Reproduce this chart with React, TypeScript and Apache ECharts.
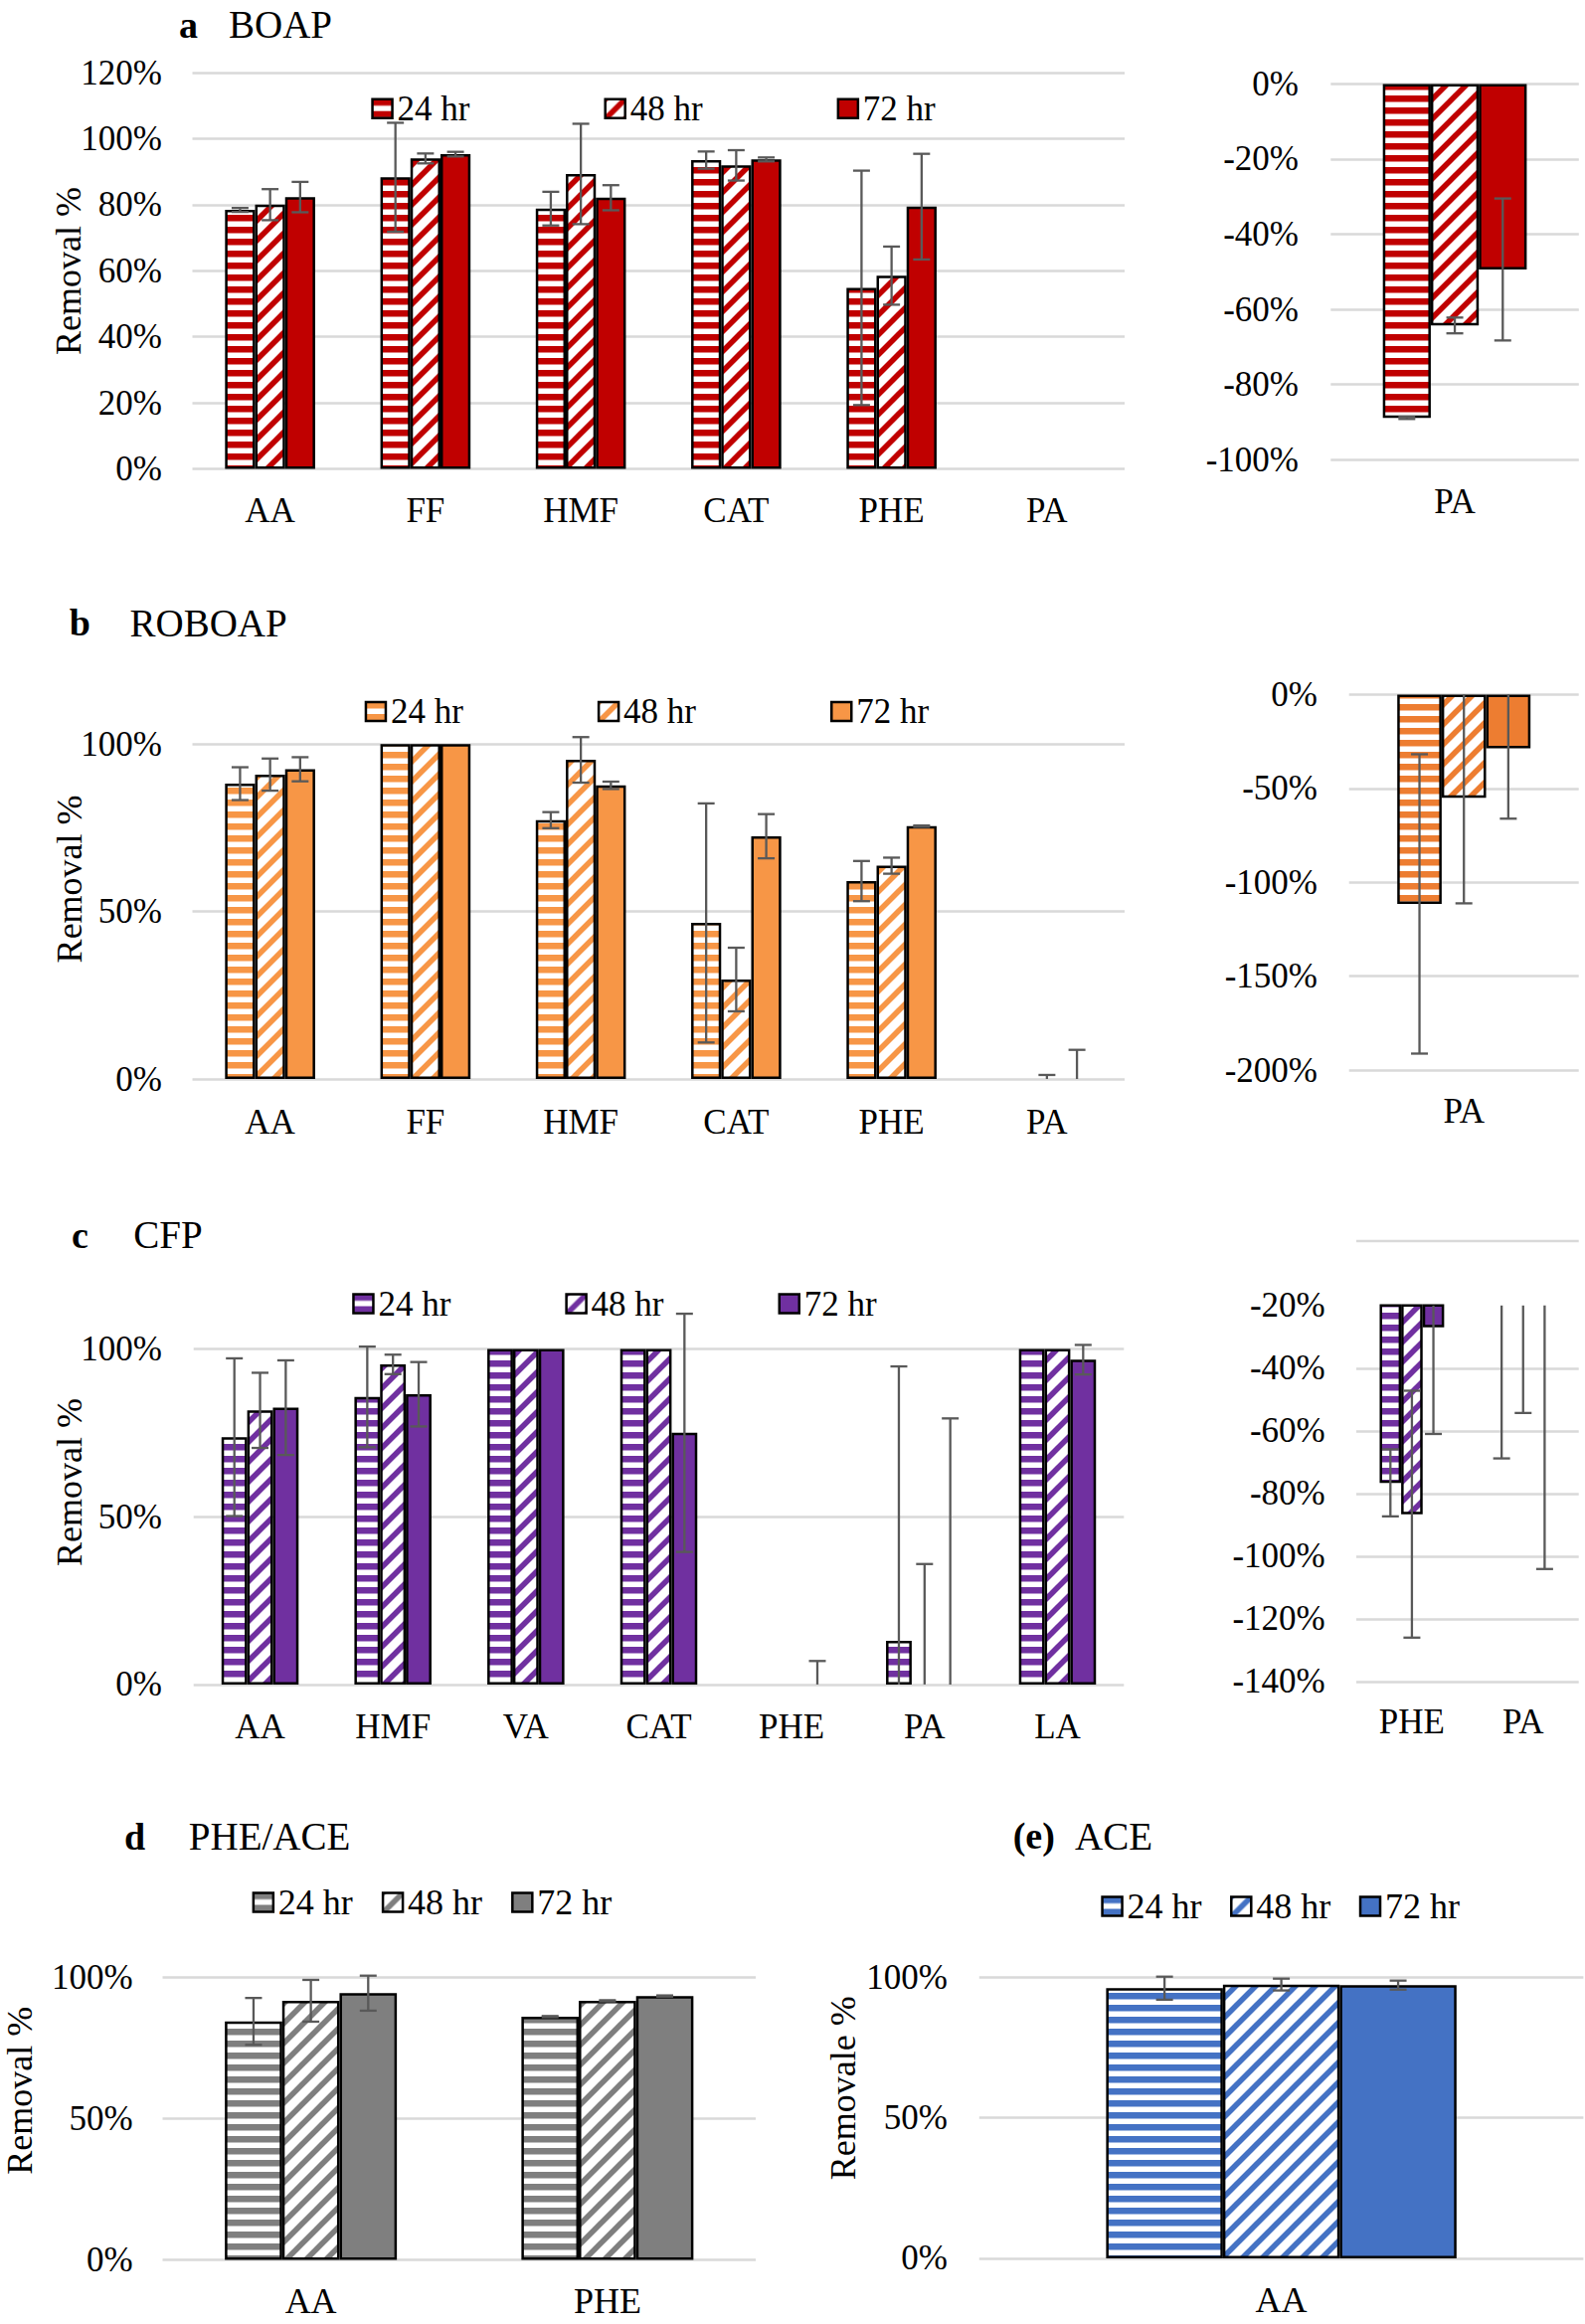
import React, { useEffect, useRef } from 'react';
import * as echarts from 'echarts';

const FONT = '"Liberation Serif", "Times New Roman", Times, serif';
const SERIES_LABELS = ['24 hr', '48 hr', '72 hr'];

// ---------- (a) BOAP ----------
const catsA = ['AA', 'FF', 'HMF', 'CAT', 'PHE', 'PA'];
const a24 = [78.4, 88.3, 78.8, 93.5, 54.8, -88.9];
const a24Err = [0.6, 16.5, 5.1, 2.6, 35.5, 0.3];
const a48 = [80.0, 94.0, 89.3, 91.9, 58.5, -64.3];
const a48Err = [4.7, 1.5, 15.2, 4.6, 8.8, 2.1];
const a72 = [82.3, 95.3, 82.1, 93.7, 79.4, -49.4];
const a72Err = [4.6, 0.7, 3.8, 0.6, 16.0, 18.9];
const insetCatsA = ['PA'];

// ---------- (b) ROBOAP ----------
const catsB = ['AA', 'FF', 'HMF', 'CAT', 'PHE', 'PA'];
const b24 = [88.2, 100, 77.3, 46.6, 59.1, -111.5];
const b24Err = [4.9, 0, 2.4, 35.7, 6.0, 79.7];
const b48 = [90.9, 100, 95.3, 29.7, 63.7, -55.0];
const b48Err = [4.8, 0, 6.8, 9.5, 2.4, 56.2];
const b72 = [92.5, 100, 87.7, 72.5, 75.5, -28.7];
const b72Err = [3.6, 0, 1.1, 6.6, 0.2, 37.4];
const insetCatsB = ['PA'];

// ---------- (c) CFP ----------
const catsC = ['AA', 'HMF', 'VA', 'CAT', 'PHE', 'PA', 'LA'];
const c24 = [73.7, 85.7, 100, 100, -76.6, 13.0, 100];
const c24Err = [23.5, 15.0, 0, 0, 10.7, 81.8, 0];
const c48 = [81.7, 95.4, 100, 100, -86.6, -9.2, 100];
const c48Err = [11.2, 2.9, 0, 0, 39.4, 45.1, 0];
const c72 = [82.5, 86.5, 100, 75.0, -27.0, -12.4, 96.8];
const c72Err = [14.1, 9.6, 0, 35.5, 34.0, 91.7, 4.4];
const insetCatsC = ['PHE', 'PA'];

// ---------- (d) PHE/ACE ----------
const catsD = ['AA', 'PHE'];
const d24 = [84.5, 86.2];
const d24Err = [8.3, 0.2];
const d48 = [91.8, 91.8];
const d48Err = [7.4, 0.2];
const d72 = [94.5, 93.5];
const d72Err = [6.2, 0.2];

// ---------- (e) ACE ----------
const catsE = ['AA'];
const e24 = [96.0];
const e24Err = [4.1];
const e48 = [97.3];
const e48Err = [2.1];
const e72 = [97.1];
const e72Err = [1.6];

const pick = (cats: string[], sub: string[], arr: number[]) => sub.map((c) => arr[cats.indexOf(c)]);

const svgUrl = (svg: string) => 'data:image/svg+xml;charset=utf-8,' + encodeURIComponent(svg);

function hStripe(color: string) {
  const s = 12;
  const svg = `<svg xmlns="http://www.w3.org/2000/svg" width="${s}" height="${s}" viewBox="0 0 ${s} ${s}"><rect width="${s}" height="${s}" fill="#ffffff"/><rect x="0" y="0" width="${s}" height="6.5" fill="${color}"/></svg>`;
  return { image: svgUrl(svg), repeat: 'repeat', imageWidth: s, imageHeight: s };
}

function dStripe(color: string) {
  const P = 20;
  const w = 5.6;
  const d = `M${-P},${P}L${P},${-P}M-2,${P + 2}L${P + 2},-2M0,${2 * P}L${2 * P},0`;
  const svg = `<svg xmlns="http://www.w3.org/2000/svg" width="${P}" height="${P}" viewBox="0 0 ${P} ${P}"><rect width="${P}" height="${P}" fill="#ffffff"/><path d="${d}" stroke="${color}" stroke-width="${w}" fill="none"/></svg>`;
  return { image: svgUrl(svg), repeat: 'repeat', imageWidth: P, imageHeight: P };
}

type Set3 = { vals: number[]; errs: number[] }[];

function errRenderer(k: number, gapFrac: number, lo: number, hi: number) {
  return (params: any, api: any) => {
    const i = api.value(0);
    const v = api.value(1);
    const e = api.value(2);
    const band = api.size([1, 0])[0];
    const bw = (band * (1 - gapFrac)) / 3;
    const cx = api.coord([i, lo])[0] + (k - 1) * bw;
    let top = v + e;
    let bot = v - e;
    const capTop = top <= hi;
    const capBot = bot >= lo;
    top = Math.min(top, hi);
    bot = Math.max(bot, lo);
    if (!(e > 0) || top <= bot) return { type: 'group', children: [] };
    const yT = api.coord([i, top])[1];
    const yB = api.coord([i, bot])[1];
    const st = { stroke: '#595959', lineWidth: 2.3 };
    const ch: any[] = [{ type: 'line', shape: { x1: cx, y1: yT, x2: cx, y2: yB }, style: st }];
    if (capTop) ch.push({ type: 'line', shape: { x1: cx - 8.5, y1: yT, x2: cx + 8.5, y2: yT }, style: st });
    if (capBot) ch.push({ type: 'line', shape: { x1: cx - 8.5, y1: yB, x2: cx + 8.5, y2: yB }, style: st });
    return { type: 'group', children: ch };
  };
}

function makeSeries(prefix: string, gi: number, sets: Set3, color: string, gapFrac: number, lo: number, hi: number) {
  const fills: any[] = [hStripe(color), dStripe(color), color];
  const out: any[] = [];
  sets.forEach((s, k) => {
    out.push({
      type: 'bar',
      name: `${prefix}|${SERIES_LABELS[k]}`,
      xAxisIndex: gi,
      yAxisIndex: gi,
      data: s.vals,
      barGap: '0%',
      barCategoryGap: `${gapFrac * 100}%`,
      clip: true,
      silent: true,
      z: 2,
      itemStyle: { color: fills[k], borderColor: '#000000', borderWidth: 2.5 },
      emphasis: { disabled: true },
    });
  });
  sets.forEach((s, k) => {
    out.push({
      type: 'custom',
      name: `${prefix}|err${k}`,
      xAxisIndex: gi,
      yAxisIndex: gi,
      data: s.vals.map((v, i) => [i, v, s.errs[i]]),
      encode: { x: 0, y: 1 },
      clip: false,
      silent: true,
      z: 4,
      renderItem: errRenderer(k, gapFrac, lo, hi),
    });
  });
  return out;
}

const GRIDS = [
  { left: 193.5, top: 73, width: 937.5, height: 398.4 }, // a main
  { left: 1338.3, top: 84.4, width: 249.5, height: 377.7 }, // a inset
  { left: 193.5, top: 748.3, width: 937.5, height: 336.7 }, // b main
  { left: 1356.7, top: 698.4, width: 231, height: 377.7 }, // b inset
  { left: 194.7, top: 1356.5, width: 935.6, height: 337.4 }, // c main
  { left: 1364, top: 1312.8, width: 223.7, height: 378.1 }, // c inset
  { left: 163.5, top: 1988.7, width: 596.5, height: 283.9 }, // d
  { left: 984.8, top: 1988, width: 607.6, height: 282.9 }, // e
];

function yAx(gi: number, min: number, max: number, interval: number, margin: number, split: any = {}) {
  return {
    type: 'value',
    gridIndex: gi,
    min,
    max,
    interval,
    axisLabel: {
      formatter: (v: number) => `${Math.round(v)}%`,
      fontFamily: FONT,
      fontSize: 35,
      color: '#000',
      margin,
    },
    splitLine: { show: true, lineStyle: { color: '#d9d9d9', width: 2.5 }, ...split },
    axisLine: { show: false },
    axisTick: { show: false },
  };
}

function xAx(gi: number, data: string[], margin: number, fontSize = 35) {
  return {
    type: 'category',
    gridIndex: gi,
    data,
    position: 'bottom',
    axisLine: { show: false, onZero: false },
    axisTick: { show: false },
    splitLine: { show: false },
    axisLabel: { interval: 0, margin, fontFamily: FONT, fontSize, color: '#000' },
  };
}

function legend(prefix: string, left: number, cy: number, gap: number, fontSize: number) {
  return {
    show: true,
    left,
    top: cy - 18,
    orient: 'horizontal',
    padding: 0,
    itemWidth: 20,
    itemHeight: 19,
    itemGap: gap,
    icon: 'rect',
    selectedMode: false,
    data: SERIES_LABELS.map((l) => `${prefix}|${l}`),
    formatter: (n: string) => n.split('|')[1],
    textStyle: { fontFamily: FONT, fontSize, color: '#000', lineHeight: 36 },
    itemStyle: { borderColor: '#000', borderWidth: 2.5 },
  };
}

const txt = (x: number, y: number, text: string, font: string) => ({
  type: 'text',
  x,
  y,
  silent: true,
  style: { text, font, fill: '#000', align: 'left', verticalAlign: 'middle' },
});

const vtxt = (x: number, y: number, text: string, size: number) => ({
  type: 'text',
  x,
  y,
  rotation: Math.PI / 2,
  silent: true,
  style: { text, font: `${size}px ${FONT}`, fill: '#000', align: 'center', verticalAlign: 'middle' },
});

function buildOption() {
  const GAP = 0.42;
  const series = [
    ...makeSeries('a', 0, [{ vals: a24, errs: a24Err }, { vals: a48, errs: a48Err }, { vals: a72, errs: a72Err }], '#C00000', GAP, 0, Infinity),
    ...makeSeries('ai', 1, [
      { vals: pick(catsA, insetCatsA, a24), errs: pick(catsA, insetCatsA, a24Err) },
      { vals: pick(catsA, insetCatsA, a48), errs: pick(catsA, insetCatsA, a48Err) },
      { vals: pick(catsA, insetCatsA, a72), errs: pick(catsA, insetCatsA, a72Err) },
    ], '#C00000', GAP, -100, 0),
    ...makeSeries('b', 2, [{ vals: b24, errs: b24Err }, { vals: b48, errs: b48Err }, { vals: b72, errs: b72Err }], '#F79646', GAP, 0, Infinity),
    ...makeSeries('bi', 3, [
      { vals: pick(catsB, insetCatsB, b24), errs: pick(catsB, insetCatsB, b24Err) },
      { vals: pick(catsB, insetCatsB, b48), errs: pick(catsB, insetCatsB, b48Err) },
      { vals: pick(catsB, insetCatsB, b72), errs: pick(catsB, insetCatsB, b72Err) },
    ], '#ED7D31', GAP, -200, 0),
    ...makeSeries('c', 4, [{ vals: c24, errs: c24Err }, { vals: c48, errs: c48Err }, { vals: c72, errs: c72Err }], '#7030A0', GAP, 0, Infinity),
    ...makeSeries('ci', 5, [
      { vals: pick(catsC, insetCatsC, c24), errs: pick(catsC, insetCatsC, c24Err) },
      { vals: pick(catsC, insetCatsC, c48), errs: pick(catsC, insetCatsC, c48Err) },
      { vals: pick(catsC, insetCatsC, c72), errs: pick(catsC, insetCatsC, c72Err) },
    ], '#7030A0', GAP, -140, -20),
    ...makeSeries('d', 6, [{ vals: d24, errs: d24Err }, { vals: d48, errs: d48Err }, { vals: d72, errs: d72Err }], '#7F7F7F', GAP, 0, Infinity),
    ...makeSeries('e', 7, [{ vals: e24, errs: e24Err }, { vals: e48, errs: e48Err }, { vals: e72, errs: e72Err }], '#4472C4', GAP, 0, Infinity),
  ];

  return {
    animation: false,
    backgroundColor: '#ffffff',
    textStyle: { fontFamily: FONT },
    grid: GRIDS.map((g) => ({ ...g, containLabel: false, outerBoundsMode: 'none' })),
    xAxis: [
      xAx(0, catsA, 25),
      xAx(1, insetCatsA, 24.9),
      xAx(2, catsB, 26),
      xAx(3, insetCatsB, 23.8),
      xAx(4, catsC, 25.2),
      xAx(5, insetCatsC, 22.6),
      xAx(6, catsD, 23.6, 36),
      xAx(7, catsE, 24.4, 36),
    ],
    yAxis: [
      yAx(0, 0, 120, 20, 30.5),
      yAx(1, -100, 0, 20, 32.3),
      yAx(2, 0, 100, 50, 30.7),
      yAx(3, -200, 0, 50, 31.7),
      yAx(4, 0, 100, 50, 31.7),
      yAx(5, -140, -20, 20, 31.3, { showMaxLine: false }),
      yAx(6, 0, 100, 50, 29.8),
      yAx(7, 0, 100, 50, 31.9),
    ],
    legend: [
      legend('a', 373.3, 109.2, 135, 35),
      legend('b', 366.7, 715.5, 135, 35),
      legend('c', 354.2, 1311, 115, 35),
      legend('d', 253.6, 1913, 29, 36),
      legend('e', 1107.3, 1917, 28.5, 36),
    ],
    graphic: {
      elements: [
        txt(180, 24.7, 'a', `bold 38px ${FONT}`),
        txt(230, 24.7, 'BOAP', `39px ${FONT}`),
        txt(69.7, 626, 'b', `bold 38px ${FONT}`),
        txt(130.5, 626, 'ROBOAP', `39px ${FONT}`),
        txt(71.9, 1241.8, 'c', `bold 38px ${FONT}`),
        txt(134.2, 1241.8, 'CFP', `39px ${FONT}`),
        txt(125, 1846.6, 'd', `bold 38px ${FONT}`),
        txt(189.8, 1846.6, 'PHE/ACE', `39px ${FONT}`),
        txt(1018.7, 1846.2, '(e)', `bold 38px ${FONT}`),
        txt(1081, 1846.2, 'ACE', `39px ${FONT}`),
        vtxt(69, 272.6, 'Removal %', 36),
        vtxt(69.7, 883.9, 'Removal %', 36),
        vtxt(69.7, 1490.6, 'Removal %', 36),
        vtxt(20.4, 2102.2, 'Removal %', 36),
        vtxt(848, 2099.7, 'Removale %', 36),
        {
          type: 'line',
          silent: true,
          shape: { x1: 1364, y1: 1248.1, x2: 1587.7, y2: 1248.1 },
          style: { stroke: '#d9d9d9', lineWidth: 2.5 },
        },
      ],
    },
    series,
  };
}

export default function App() {
  const ref = useRef<HTMLDivElement>(null);
  useEffect(() => {
    document.body.style.margin = '0';
    const chart = echarts.init(ref.current as HTMLDivElement, null, {
      renderer: 'svg',
      width: 1594,
      height: 2337,
    });
    chart.setOption(buildOption() as any);
    return () => chart.dispose();
  }, []);
  return (
    <div
      ref={ref}
      style={{ position: 'absolute', left: 0, top: 0, width: 1594, height: 2337, background: '#ffffff' }}
    />
  );
}
